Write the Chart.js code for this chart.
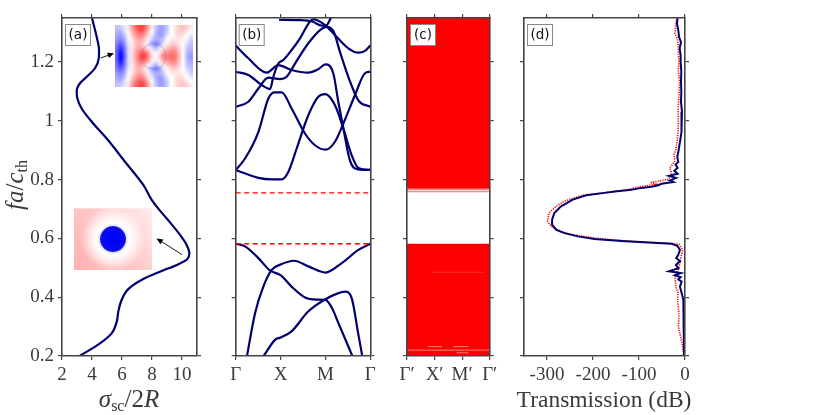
<!DOCTYPE html>
<html>
<head>
<meta charset="utf-8">
<script src="https://cdn.jsdelivr.net/npm/chart.js@4"></script>
<style>
html,body{margin:0;padding:0;background:#fff;}
#wrap{position:relative;width:830px;height:415px;overflow:hidden;}
canvas{position:absolute;left:0;top:0;}
</style>
</head>
<body>
<div id="wrap">
<canvas id="panelA" width="830" height="415"></canvas>
<canvas id="panelB" width="830" height="415"></canvas>
<canvas id="panelC" width="830" height="415"></canvas>
<canvas id="panelD" width="830" height="415"></canvas>
</div>
<script>
// frequency axis, shared by all panels
const freqTicks = [0.2,0.4,0.6,0.8,1,1.2];
const freqLabels = ['0.2','0.4','0.6','0.8','1','1.2'];

// (a) scattering cross section
const sigmaTicks = [2,4,6,8,10];
const sigmaX = [4.0,4.31,4.47,4.45,4.2,3.69,3.2,2.98,3.02,3.31,3.98,4.98,6.2,7.42,7.98,8.49,8.98,9.87,10.31,10.49,10.35,9.65,8.53,7.42,6.65,6.3,5.95,5.75,5.65,5.31,4.53,3.2];
const sigmaF = [1.35,1.286,1.241,1.213,1.179,1.152,1.128,1.102,1.077,1.042,0.997,0.94,0.861,0.782,0.731,0.697,0.668,0.612,0.578,0.549,0.529,0.51,0.487,0.462,0.438,0.421,0.388,0.35,0.317,0.277,0.243,0.201];

// inset fields, red positive and blue negative (only the top half + middle row, mirrored below)
const fieldTop = [
[-.25,-.2,-.1,.1,.4,.6,.75,.7,.4,.1,-.2,-.35,-.35,-.2,0,.1,.2,.25,.2,.1],
[-.3,-.3,-.15,.05,.3,.5,.65,.6,.3,0,-.25,-.4,-.35,-.2,0,.1,.2,.2,.1,0],
[-.35,-.4,-.25,0,.2,.4,.5,.4,.15,-.1,-.3,-.4,-.3,-.1,0,.1,.15,.1,0,-.1],
[-.4,-.5,-.35,-.05,.1,.3,.35,.25,.05,-.2,-.35,-.3,-.2,0,.1,.1,.1,.05,-.05,-.2],
[-.5,-.65,-.45,-.1,.1,.25,.3,.15,-.1,-.35,-.5,-.4,-.1,.05,.2,.2,.1,0,-.15,-.25],
[-.55,-.8,-.55,-.15,.1,.3,.4,.3,.1,-.1,-.3,-.1,.1,.25,.35,.35,.2,0,-.2,-.3],
[-.6,-.95,-.6,-.15,.15,.35,.55,.6,.4,.1,-.05,.1,.35,.4,.5,.5,.25,0,-.25,-.35],
[-.6,-1,-.65,-.15,.15,.4,.65,.8,.5,.2,0,.2,.5,.5,.6,.55,.3,0,-.3,-.4]
];

// (b) band structure
const pathTicks = [0,1,2,3];
const pathLabels = ['Γ','X','M','Γ'];
const band1X = [0,.208,.505,.765,1,1.245,1.545,1.8,2,2.14,2.29,2.6];
const band1F = [.582,.573,.533,.491,.475,.436,.399,.392,.391,.365,.312,.2];
const band2X = [.252,.43,.616,.802,1,1.297,1.62,2,2.364,2.734,3];
const band2F = [.2,.345,.436,.493,.511,.524,.505,.484,.516,.561,.582];
const band3X = [.624,.876,1,1.245,1.62,2,2.29,2.436,2.585,2.73,2.82];
const band3F = [.2,.255,.263,.284,.352,.393,.414,.419,.397,.277,.2];
const band4X = [0,.208,.505,.728,.861,1.025,1.247,1.544,1.767,2,2.213,2.4,2.659,2.881,3];
const band4F = [.833,.872,.962,1.076,1.097,1.097,1.042,.957,.917,.902,.929,.991,1.088,1.162,1.167];
const band5X = [0,.505,.802,1.025,1.173,1.359,1.618,1.84,2,2.213,2.4,2.585,2.734,3];
const band5F = [.833,.806,.801,.801,.826,.906,1.019,1.082,1.091,1.053,.974,.883,.84,.833];
const band6X = [0,.282,.505,.728,.988,1.136,1.322,1.619,1.879,2.027,2.176,2.324,2.51,2.733,3];
const band6F = [1.048,1.065,1.11,1.147,1.142,1.15,1.195,1.264,1.309,1.32,1.306,1.235,1.15,1.07,1.048];
const band7X = [0,.282,.691,.95,1.247,1.619,1.842,2,2.176,2.287,2.4,2.547,2.733,3];
const band7F = [1.256,1.213,1.164,1.19,1.173,1.164,1.176,1.192,1.161,1.065,.974,.865,.835,.833];
const band8X = [0,.282,.579,.765,.839,.95,1.062,1.247,1.433,1.656,1.73,1.99,2.213,2.51,2.733,2.881,3];
const band8F = [1.167,1.156,1.122,1.108,1.15,1.195,1.207,1.241,1.281,1.338,1.345,1.326,1.292,1.247,1.232,1.238,1.256];
const band9X = [.965,1.396,1.708,1.916,2.012,2.124];
const band9F = [1.344,1.343,1.338,1.324,1.324,1.351];
const gapEdges = [.582,.755];

// (c) supercell bands, read as filled ranges
const superLabels = ['Γ′','X′','M′','Γ′'];
const lowerRange = [.2,.582];
const upperRange = [.769,1.35];
const paleLevels = [.766,.759];
const slitF = [.22,.232,.232,.211,.485];
const slitFrom = [0,.77,1.68,1.8,.9];
const slitTo = [3,1.26,2.23,2.23,2.77];

// (d) transmission
const dbTicks = [-300,-200,-100,0];
const dbLabels = ['-300','-200','-100','0'];
const simF = [1.349,1.332,1.309,1.286,1.267,1.247,1.224,1.2,1.167,1.133,1.099,1.065,1.031,.997,.962,.928,.894,.877,.86,.851,.84,.83,.82,.813,.806,.797,.792,.786,.781,.776,.772,.766,.76,.755,.747,.732,.709,.686,.664,.647,.63,.618,.607,.598,.591,.586,.582,.575,.561,.544,.533,.522,.51,.499,.488,.482,.475,.468,.461,.453,.436,.414,.391,.357,.3,.243,.203];
const simDb = [-16,-17.5,-14.6,-13,-8.7,-11.7,-9.5,-9.5,-8,-8.7,-8,-8.7,-6.6,-7.3,-8,-11,-14.6,-16.8,-14.6,-20.4,-16,-23.3,-16,-35,-19.7,-32.8,-25.5,-51,-58,-72.8,-94.7,-116.5,-153,-174.8,-214.9,-244,-269.5,-284,-289,-289,-280,-262,-233,-197,-138,-80,-29,-16.8,-11,-14.6,-19,-11,-19.7,-14.6,-35,-8.7,-21.8,-9.5,-14.6,-7.3,-11,-7.3,-3.6,-2.2,-2.2,-2.2,-2.2];
const refF = [1.349,1.326,1.298,1.281,1.258,1.23,1.2,1.171,1.137,1.103,1.069,1.035,1.0,.965,.931,.902,.885,.863,.84,.818,.801,.79,.784,.775,.766,.759,.747,.727,.709,.686,.658,.641,.624,.613,.601,.593,.587,.583,.58,.561,.538,.516,.493,.47,.436,.414,.391,.368,.334,.3,.266,.232,.203];
const refDb = [-18,-20,-22,-17,-14.6,-14.6,-13,-14.6,-11.7,-12.4,-13.8,-15,-14.6,-15,-17,-20,-24,-22,-33,-29,-36,-76,-62,-102,-124,-157,-222,-262,-280,-296,-298.6,-291,-273,-244,-197,-138,-80,-29,-13,-5,-8.7,-11,-14.6,-21.8,-20,-14.6,-16,-14.6,-13,-14.6,-9.5,-5,-3];

const navy = '#00006e';
const red = '#ff0000';
const axisColor = '#444444';
const textColor = '#3a3a3a';
const serif = '"Liberation Serif", "DejaVu Serif", serif';

function zip(xs, ys){
    return xs.map(function(x,i){ return {x:x,y:ys[i]}; });
}

function axis(position, min, max, vals, labels, size){
    return {
        type:'linear', position:position, min:min, max:max,
        afterBuildTicks:function(s){ s.ticks = vals.map(function(v){ return {value:v}; }); },
        afterFit:function(s){
            if(s.isHorizontal()){ s.height = size; } else { s.width = size; }
        },
        border:{color:axisColor,width:1.6,z:1},
        grid:{drawOnChartArea:false,drawTicks:true,tickLength:4,tickColor:axisColor,lineWidth:1.2},
        ticks:{
            display:!!labels,
            autoSkip:false,maxRotation:0,padding:labels?4:0,
            color:textColor,
            font:{family:serif,size:19},
            callback:function(v,i){ return labels?labels[i]:''; }
        }
    };
}

function drawRuns(ctx,x,y,runs,rotated){
    ctx.save();
    ctx.textBaseline = 'alphabetic';
    ctx.textAlign = 'left';
    ctx.fillStyle = textColor;
    let w = 0;
    runs.forEach(function(r){ ctx.font = r.font; w += ctx.measureText(r.t).width; });
    ctx.translate(x,y);
    if(rotated){ ctx.rotate(-Math.PI/2); }
    let cx = -w/2;
    runs.forEach(function(r){
        ctx.font = r.font;
        ctx.fillText(r.t,cx,r.dy||0);
        cx += ctx.measureText(r.t).width;
    });
    ctx.restore();
}

function tagPlugin(tag){
    return {
        id:'tag',
        afterDraw:function(chart){
            const ctx = chart.ctx, a = chart.chartArea;
            ctx.save();
            ctx.fillStyle = '#fff';
            ctx.strokeStyle = '#888';
            ctx.lineWidth = 1;
            ctx.fillRect(a.left+3.5,a.top+6.5,25,21);
            ctx.strokeRect(a.left+3.5,a.top+6.5,25,21);
            ctx.fillStyle = '#111';
            ctx.font = '13.5px "DejaVu Sans", sans-serif';
            ctx.textAlign = 'center';
            ctx.textBaseline = 'middle';
            ctx.fillText(tag,a.left+16,a.top+17);
            ctx.restore();
        }
    };
}

function arrow(ctx,x0,y0,x1,y1){
    const t = Math.atan2(y1-y0,x1-x0), h = 7;
    ctx.save();
    ctx.strokeStyle = '#000';
    ctx.fillStyle = '#000';
    ctx.lineWidth = 0.9;
    ctx.beginPath();
    ctx.moveTo(x0,y0);
    ctx.lineTo(x1-h*0.7*Math.cos(t),y1-h*0.7*Math.sin(t));
    ctx.stroke();
    ctx.beginPath();
    ctx.moveTo(x1,y1);
    ctx.lineTo(x1-h*Math.cos(t-0.42),y1-h*Math.sin(t-0.42));
    ctx.lineTo(x1-h*Math.cos(t+0.42),y1-h*Math.sin(t+0.42));
    ctx.closePath();
    ctx.fill();
    ctx.restore();
}

function fieldCanvas(){
    const rows = fieldTop.concat(fieldTop.slice(0,7).reverse());
    const c = document.createElement('canvas');
    c.width = rows[0].length;
    c.height = rows.length;
    const g = c.getContext('2d');
    rows.forEach(function(row,j){
        row.forEach(function(v,i){
            const k = Math.round(255*(1-Math.min(1,Math.abs(v))));
            g.fillStyle = v>=0 ? 'rgb(255,'+k+','+k+')' : 'rgb('+k+','+k+',255)';
            g.fillRect(i,j,1,1);
        });
    });
    return c;
}

const insetPlugin = {
    id:'insets',
    afterDatasetsDraw:function(chart){
        const ctx = chart.ctx, sx = chart.scales.x, sy = chart.scales.y;
        const px = function(v){ return sx.getPixelForValue(v); };
        const py = function(v){ return sy.getPixelForValue(v); };

        // upper inset, mode near f = 1.21
        let l = px(5.51), r = px(10.71), t = py(1.325), b = py(1.114);
        ctx.save();
        ctx.imageSmoothingEnabled = true;
        ctx.imageSmoothingQuality = 'high';
        ctx.drawImage(fieldCanvas(),l,t,r-l,b-t);
        ctx.strokeStyle = 'rgba(70,70,150,0.3)';
        ctx.lineWidth = 0.8;
        ctx.beginPath();
        ctx.arc((l+r)/2,(t+b)/2,12.7,0,Math.PI*2);
        ctx.stroke();
        ctx.restore();
        arrow(ctx,px(4.58),py(1.214),px(5.47),py(1.23));

        // lower inset, mode near f = 0.55
        l = px(2.8); r = px(8.0); t = py(0.703); b = py(0.4925);
        const cx = (l+r)/2 - 0, cy = (t+b)/2;
        ctx.save();
        ctx.beginPath();
        ctx.rect(l,t,r-l,b-t);
        ctx.clip();
        const base = ctx.createLinearGradient(l,b,r,t);
        base.addColorStop(0,'#ffb0b0');
        base.addColorStop(0.5,'#ffc8c8');
        base.addColorStop(1,'#ffecec');
        ctx.fillStyle = base;
        ctx.fillRect(l,t,r-l,b-t);
        const halo = ctx.createRadialGradient(cx,cy,12,cx,cy,32);
        halo.addColorStop(0,'rgba(205,215,255,1)');
        halo.addColorStop(0.2,'rgba(255,255,255,1)');
        halo.addColorStop(0.45,'rgba(255,255,255,0.75)');
        halo.addColorStop(1,'rgba(255,255,255,0)');
        ctx.fillStyle = halo;
        ctx.fillRect(l,t,r-l,b-t);
        const disc = ctx.createRadialGradient(cx,cy,0,cx,cy,13);
        disc.addColorStop(0,'#0000ff');
        disc.addColorStop(0.85,'#0808f0');
        disc.addColorStop(1,'#2424d8');
        ctx.fillStyle = disc;
        ctx.beginPath();
        ctx.arc(cx,cy,13,0,Math.PI*2);
        ctx.fill();
        ctx.restore();
        arrow(ctx,px(10.0),py(0.545),px(8.3),py(0.6));
    }
};

const labelsA = {
    id:'labelsA',
    afterDraw:function(chart){
        const ctx = chart.ctx;
        drawRuns(ctx,129,407,[
            {t:'σ',font:'italic 25px '+serif},
            {t:'sc',font:'16px '+serif,dy:4},
            {t:'/2',font:'25px '+serif},
            {t:'R',font:'italic 25px '+serif}
        ]);
        drawRuns(ctx,23,185,[
            {t:'fa',font:'italic 25px '+serif},
            {t:'/',font:'25px '+serif},
            {t:'c',font:'italic 25px '+serif},
            {t:'th',font:'16px '+serif,dy:4}
        ],true);
    }
};

const labelsD = {
    id:'labelsD',
    afterDraw:function(chart){
        drawRuns(chart.ctx,604,407,[{t:'Transmission (dB)',font:'23.5px '+serif}]);
    }
};

// x axis box is 59 tall so its labels are not clipped, same for the left axis of (a)
function panel(id,box,xScale,xTop,datasets,plugins){
    const leftSize = id==='panelA' ? box[0] : 6;
    return new Chart(document.getElementById(id),{
        type:'scatter',
        data:{datasets:datasets},
        plugins:plugins,
        options:{
            responsive:false,
            animation:false,
            events:[],
            layout:{padding:{left:box[0]-leftSize,right:830-box[1]-6,top:18-6,bottom:0}},
            plugins:{legend:{display:false},tooltip:{enabled:false}},
            scales:{
                x:xScale,
                x2:xTop,
                y:axis('left',0.2,1.35,freqTicks,id==='panelA'?freqLabels:null,leftSize),
                y2:axis('right',0.2,1.35,freqTicks,null,6)
            }
        }
    });
}

function curve(xs,ys,color,width,extra){
    return Object.assign({
        data:zip(xs,ys),showLine:true,pointRadius:0,
        borderColor:color,borderWidth:width,tension:0,fill:false,
        xAxisID:'x',yAxisID:'y'
    },extra||{});
}

panel('panelA',[62,197],
    axis('bottom',2,11,sigmaTicks,sigmaTicks.map(String),59),
    axis('top',2,11,sigmaTicks,null,6),
    [curve(sigmaX,sigmaF,navy,2.2,{indexAxis:'y',cubicInterpolationMode:'monotone'})],
    [insetPlugin,tagPlugin('(a)'),labelsA]);

const bandSets = [];
gapEdges.forEach(function(f){
    bandSets.push(curve([0,3],[f,f],red,1.4,{borderDash:[5,3.5]}));
});
[
    [band1X,band1F],[band2X,band2F],[band3X,band3F],[band4X,band4F],[band5X,band5F],
    [band6X,band6F],[band7X,band7F],[band8X,band8F],[band9X,band9F]
].forEach(function(b){
    bandSets.push(curve(b[0],b[1],navy,2.2,{cubicInterpolationMode:'monotone'}));
});
panel('panelB',[235.7,370.3],
    axis('bottom',0,3,pathTicks,pathLabels,59),
    axis('top',0,3,pathTicks,null,6),
    bandSets,
    [tagPlugin('(b)')]);

// first dataset ends up on top, so the fills go last
const superSets = [];
slitF.forEach(function(f,i){
    const a = i===4 ? 0.2 : 0.5;
    superSets.push(curve([slitFrom[i],slitTo[i]],[f,f],'rgba(255,255,255,'+a+')',1));
});
paleLevels.forEach(function(f){
    superSets.push(curve([0,3],[f,f],'rgba(255,110,110,0.85)',1.2));
});
superSets.push(curve([0,3],[lowerRange[1],lowerRange[1]],red,0,{fill:{value:lowerRange[0]},backgroundColor:red}));
superSets.push(curve([0,3],[upperRange[0],upperRange[0]],red,0,{fill:{value:upperRange[1]},backgroundColor:red}));
panel('panelC',[407,489.7],
    axis('bottom',0,3,pathTicks,superLabels,59),
    axis('top',0,3,pathTicks,null,6),
    superSets,
    [tagPlugin('(c)')]);

panel('panelD',[524,685],
    axis('bottom',-350,0,dbTicks,dbLabels,59),
    axis('top',-350,0,dbTicks,null,6),
    [
        curve(simDb,simF,navy,2),
        curve(refDb,refF,red,1.6,{borderDash:[1.2,1.2]})
    ],
    [tagPlugin('(d)'),labelsD]);
</script>
</body>
</html>
